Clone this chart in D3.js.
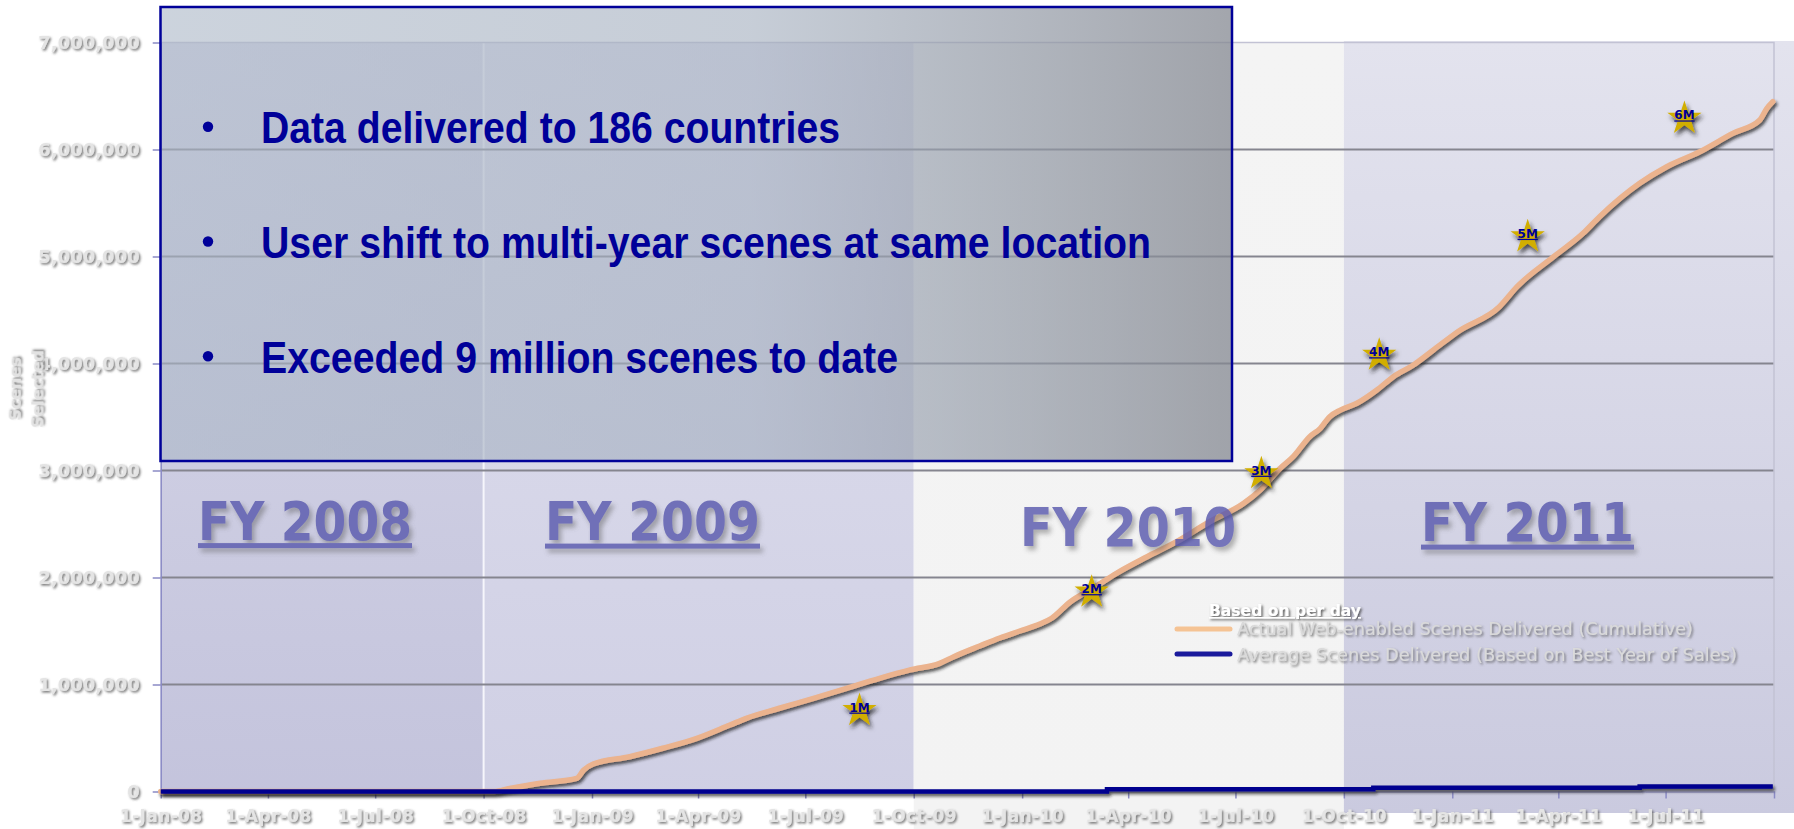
<!DOCTYPE html>
<html>
<head>
<meta charset="utf-8">
<script src="https://cdn.jsdelivr.net/npm/d3@7"></script>
<style>
  html, body { margin: 0; padding: 0; background: #ffffff; }
  svg { display: block; }
</style>
</head>
<body>
<svg id="chart" width="1794" height="829"></svg>
<script>
// ---- Data -------------------------------------------------------------
// Actual web-enabled scenes delivered (cumulative)
const scenesDates = [
  "2008-01-01","2008-10-10","2008-10-22","2008-11-18","2008-12-19","2008-12-25",
  "2009-01-02","2009-02-02","2009-03-02","2009-03-31","2009-04-28","2009-05-12",
  "2009-06-09","2009-07-08","2009-08-05","2009-09-02","2009-09-28","2009-10-23",
  "2009-11-04","2009-11-26","2009-12-13","2009-12-30","2010-01-16","2010-01-26",
  "2010-02-11","2010-03-02","2010-03-22","2010-04-17","2010-05-12","2010-06-09",
  "2010-07-08","2010-07-22","2010-08-08","2010-08-19","2010-09-02","2010-09-11",
  "2010-09-19","2010-09-28","2010-10-12","2010-10-29","2010-11-12","2010-11-29",
  "2010-12-16","2011-01-06","2011-02-10","2011-02-25","2011-03-28","2011-04-22",
  "2011-05-06","2011-06-09","2011-07-02","2011-07-30","2011-08-27","2011-09-19",
  "2011-09-25","2011-09-30"
];
const scenesValues = [
  0, 0, 25000, 77000, 123000, 201000,
  257000, 325000, 404000, 497000, 621000, 684000,
  778000, 871000, 964000, 1058000, 1136000, 1198000,
  1260000, 1360000, 1435000, 1500000, 1565000, 1619000,
  1774000, 1899000, 2039000, 2194000, 2335000, 2521000,
  2693000, 2818000, 3021000, 3129000, 3316000, 3394000,
  3503000, 3565000, 3628000, 3752000, 3877000, 3986000,
  4126000, 4300000, 4531000, 4718000, 4998000, 5217000,
  5372000, 5684000, 5839000, 5979000, 6151000, 6276000,
  6385000, 6447000
];

// Average scenes delivered (based on best year of sales), stepped
const avgDates  = ["2008-01-01","2010-03-14","2010-10-26","2011-06-09","2011-09-30"];
const avgValues = [0, 21000, 34000, 47000, 47000];

// Milestone stars
const milestoneLabels = ["1M","2M","3M","4M","5M","6M"];
const milestoneValues = [1000000, 2000000, 3000000, 4000000, 5000000, 6000000];
const milestoneDates  = ["2009-08-16","2010-03-01","2010-07-23","2010-10-31","2011-03-06","2011-07-17"];

// Fiscal years
const fyLabels = ["FY 2008","FY 2009","FY 2010","FY 2011"];
const fyStarts = ["2008-01-01","2008-10-01","2009-10-01","2010-10-01"];

// Axes
const xTickLabels = ["1-Jan-08","1-Apr-08","1-Jul-08","1-Oct-08","1-Jan-09","1-Apr-09",
  "1-Jul-09","1-Oct-09","1-Jan-10","1-Apr-10","1-Jul-10","1-Oct-10","1-Jan-11",
  "1-Apr-11","1-Jul-11"];
const yTickValues = [0, 1000000, 2000000, 3000000, 4000000, 5000000, 6000000, 7000000];
const yTitle = ["Scenes", "Selected"];

// Legend and callout text
const legendTitle = "Based on per day";
const legendLabels = [
  "Actual Web-enabled Scenes Delivered (Cumulative)",
  "Average Scenes Delivered (Based on Best Year of Sales)"
];
const bullets = [
  "Data delivered to 186 countries",
  "User shift to multi-year scenes at same location",
  "Exceeded 9 million scenes to date"
];

// ---- Setup ------------------------------------------------------------
const W = 1794, H = 829;
const parseISO = d3.utcParse("%Y-%m-%d");
const parseTick = d3.utcParse("%d-%b-%y");
const startDate = parseISO("2008-01-01");
const endDate = parseISO("2011-10-01");

const x = d3.scaleUtc().domain([startDate, endDate]).range([160.7, 1774]);
const y = d3.scaleLinear().domain([0, 7000000]).range([791.5, 42.5]);
// milestone markers sit on their own full-height scale
const yMark = d3.scaleLinear().domain([0, 7000000]).range([H, 0]);

const svg = d3.select("#chart");
const defs = svg.append("defs");

function vGrad(id, top, bottom) {
  const g = defs.append("linearGradient").attr("id", id)
    .attr("gradientUnits", "userSpaceOnUse")
    .attr("x1", 0).attr("x2", 0).attr("y1", 42).attr("y2", 815);
  g.append("stop").attr("offset", 0).attr("stop-color", top);
  g.append("stop").attr("offset", 1).attr("stop-color", bottom);
}
vGrad("band08", "#d9d9e9", "#c3c3dc");
vGrad("band09", "#e0e0ee", "#cfcfe4");
vGrad("band10", "#f4f4f4", "#f3f3f3");
vGrad("band11", "#e3e3ee", "#cacadf");

const boxGrad = defs.append("linearGradient").attr("id", "boxGrad")
  .attr("x1", 0).attr("x2", 1).attr("y1", 0).attr("y2", 0);
[[0, "rgb(170,182,198)", 0.6], [0.55, "rgb(164,175,191)", 0.62], [1, "rgb(132,136,145)", 0.75]]
  .forEach(([o, c, a]) => boxGrad.append("stop").attr("offset", o)
    .attr("stop-color", c).attr("stop-opacity", a));

function shadow(id, dx, dy, sd, color, op, wide) {
  const f = defs.append("filter").attr("id", id);
  if (wide) {
    f.attr("filterUnits", "userSpaceOnUse").attr("x", -2000).attr("y", -2000)
     .attr("width", 6000).attr("height", 6000);
  } else {
    f.attr("x", "-20%").attr("y", "-40%").attr("width", "150%").attr("height", "200%");
  }
  f.append("feDropShadow").attr("dx", dx).attr("dy", dy).attr("stdDeviation", sd)
    .attr("flood-color", color).attr("flood-opacity", op);
}
shadow("txtShadow", 1.5, 1.6, 0.9, "#4a4a4a", 0.75, false);
shadow("lineShadow", 1.8, 2.6, 1.4, "#1c1c1c", 0.72, true);
shadow("starShadow", 2, 3.5, 2, "#222", 0.8, true);
shadow("fyShadow", 3, 4, 2.5, "#555", 0.55, false);
shadow("legShadow", 1.5, 1.5, 1, "#333", 0.8, false);

// ---- Fiscal-year bands ------------------------------------------------
const bandFill = ["url(#band08)", "url(#band09)", "url(#band10)", "url(#band11)"];
const bandBottom = [y(0), y(0), H, 813];
const fyBounds = fyStarts.map(parseISO);
const bandTop = i => (i === 3 ? 41 : y(7000000));
svg.append("g").selectAll("rect").data(fyLabels).join("rect")
  .attr("x", (d, i) => x(fyBounds[i]))
  .attr("y", (d, i) => bandTop(i))
  .attr("width", (d, i) => (i < 3 ? x(fyBounds[i + 1]) : W) - x(fyBounds[i]))
  .attr("height", (d, i) => bandBottom[i] - bandTop(i))
  .attr("fill", (d, i) => bandFill[i]);

// separator between FY 2008 and FY 2009
svg.append("line")
  .attr("x1", x(fyBounds[1])).attr("x2", x(fyBounds[1]))
  .attr("y1", y(7000000)).attr("y2", y(0))
  .attr("stroke", "#f6f6fc").attr("stroke-width", 2);

// ---- Grid -------------------------------------------------------------
svg.append("g").selectAll("line").data(yTickValues.filter(v => v > 0 && v < 7000000)).join("line")
  .attr("x1", x.range()[0]).attr("x2", x.range()[1])
  .attr("y1", d => y(d)).attr("y2", d => y(d))
  .attr("stroke", "#85858f").attr("stroke-width", 2);
// plot frame top and right
svg.append("path")
  .attr("d", `M${x.range()[0]},${y(7000000)}H${x.range()[1]}V${y(0)}`)
  .attr("fill", "none").attr("stroke", "#c2c2d4").attr("stroke-width", 1.5);

// ---- Axes -------------------------------------------------------------
const yAxis = svg.append("g").attr("transform", `translate(${x.range()[0]},0)`)
  .call(d3.axisLeft(y).tickValues(yTickValues).tickFormat(d3.format(","))
    .tickSize(8).tickPadding(13).tickSizeOuter(0));
yAxis.select(".domain").attr("stroke", "#8a8ac4").attr("stroke-width", 1.5);
yAxis.selectAll(".tick line").attr("stroke", "#8a8ac4").attr("stroke-width", 1.5);
yAxis.selectAll("text")
  .attr("fill", "#e4e4e4")
  .style("font-family", "'DejaVu Sans', Verdana, sans-serif")
  .style("font-weight", "bold").style("font-size", "18px")
  .attr("filter", "url(#txtShadow)");

const xTickDates = xTickLabels.map(parseTick);
const tickLabelOf = new Map(xTickDates.map((d, i) => [+d, xTickLabels[i]]));
const xAxis = svg.append("g").attr("transform", `translate(0,${y(0)})`)
  .call(d3.axisBottom(x).tickValues(xTickDates.concat([endDate]))
    .tickFormat(d => tickLabelOf.get(+d) || "")
    .tickSize(7).tickPadding(11).tickSizeOuter(0));
xAxis.select(".domain").attr("stroke", "#8a8ac4").attr("stroke-width", 1);
xAxis.selectAll(".tick line").attr("stroke", "#8a8ac4").attr("stroke-width", 1.5);
xAxis.selectAll("text")
  .attr("fill", "#e4e4e4")
  .style("font-family", "'DejaVu Sans', Verdana, sans-serif")
  .style("font-weight", "bold").style("font-size", "17px")
  .style("letter-spacing", "0.4px")
  .attr("filter", "url(#txtShadow)");

// y-axis title
const yTitleX = [20.7, 43.3];
svg.append("g").selectAll("text").data(yTitle).join("text")
  .attr("transform", (d, i) => `translate(${yTitleX[i]},389) rotate(-90)`)
  .attr("text-anchor", "middle")
  .attr("fill", "#e2e2e2")
  .style("font-family", "'DejaVu Sans', Verdana, sans-serif")
  .style("font-weight", "bold").style("font-size", "16px")
  .attr("filter", "url(#txtShadow)")
  .text(d => d);

// ---- Series -----------------------------------------------------------
const scenes = scenesDates.map((d, i) => ({ date: parseISO(d), value: scenesValues[i] }));
const avg = avgDates.map((d, i) => ({ date: parseISO(d), value: avgValues[i] }));

svg.append("path").datum(scenes)
  .attr("d", d3.line().x(d => x(d.date)).y(d => y(d.value)).curve(d3.curveMonotoneX))
  .attr("fill", "none").attr("stroke", "#ebb38e").attr("stroke-width", 5.5)
  .attr("stroke-linejoin", "round").attr("stroke-linecap", "round")
  .attr("filter", "url(#lineShadow)");

svg.append("path").datum(avg)
  .attr("d", d3.line().x(d => x(d.date)).y(d => y(d.value)).curve(d3.curveStepAfter))
  .attr("fill", "none").attr("stroke", "#00008f").attr("stroke-width", 4.5)
  .attr("filter", "url(#lineShadow)");

// ---- Fiscal-year labels -----------------------------------------------
const fyPos = [
  { x: 198, base: 539.5, w: 214, under: true },
  { x: 545, base: 540, w: 215, under: true },
  { x: 1020, base: 546, w: 216, under: false },
  { x: 1421, base: 541, w: 213, under: true }
];
const fyG = svg.append("g").attr("filter", "url(#fyShadow)").attr("opacity", 0.82);
fyLabels.forEach((t, i) => {
  const p = fyPos[i];
  fyG.append("text")
    .attr("x", p.x).attr("y", p.base)
    .attr("textLength", p.w).attr("lengthAdjust", "spacingAndGlyphs")
    .attr("fill", "#5a5aae")
    .style("font-family", "'DejaVu Sans', Verdana, sans-serif")
    .style("font-weight", "bold").style("font-size", "53px")
    .text(t);
  if (p.under) {
    fyG.append("rect").attr("x", p.x).attr("y", p.base + 3.6)
      .attr("width", p.w).attr("height", 5).attr("fill", "#5a5aae");
  }
});

// ---- Milestone stars --------------------------------------------------
const marks = milestoneLabels.map((l, i) => ({
  label: l, value: milestoneValues[i], date: parseISO(milestoneDates[i])
}));
const star = d3.symbol().type(d3.symbolStar).size(364);
const mg = svg.append("g").selectAll("g").data(marks).join("g")
  .attr("transform", d => `translate(${x(d.date)},${yMark(d.value)})`);
mg.append("path").attr("d", star).attr("fill", "#d1ae00")
  .attr("filter", "url(#starShadow)");
mg.append("text")
  .attr("text-anchor", "middle").attr("y", 1)
  .attr("fill", "#000099")
  .style("font-family", "'DejaVu Sans', Verdana, sans-serif")
  .style("font-weight", "bold").style("font-size", "12px")
  .style("text-decoration", "underline")
  .text(d => d.label);

// ---- Legend -----------------------------------------------------------
svg.append("text")
  .attr("x", 1209).attr("y", 616)
  .attr("fill", "#ffffff")
  .attr("textLength", 152).attr("lengthAdjust", "spacingAndGlyphs")
  .style("font-family", "'DejaVu Sans', Verdana, sans-serif")
  .style("font-weight", "bold").style("font-size", "15.5px")
  .style("text-decoration", "underline")
  .attr("filter", "url(#legShadow)")
  .text(legendTitle);

const legColors = ["#f5c394", "#1a1a9c"];
const legLineY = [629, 654];
const legTextY = [635, 661];
const legTextW = [456, 500];
legendLabels.forEach((t, i) => {
  svg.append("line")
    .attr("x1", 1177).attr("x2", 1230).attr("y1", legLineY[i]).attr("y2", legLineY[i])
    .attr("stroke", legColors[i]).attr("stroke-width", 5).attr("stroke-linecap", "round");
  svg.append("text")
    .attr("x", 1237).attr("y", legTextY[i])
    .attr("textLength", legTextW[i]).attr("lengthAdjust", "spacingAndGlyphs")
    .attr("fill", "#dadada")
    .style("font-family", "'DejaVu Sans', Verdana, sans-serif")
    .style("font-size", "17.5px")
    .attr("filter", "url(#txtShadow)")
    .text(t);
});

// ---- Callout box ------------------------------------------------------
const box = { x: 160.5, y: 7, w: 1071.5, h: 454 };
svg.append("rect")
  .attr("x", box.x).attr("y", box.y).attr("width", box.w).attr("height", box.h)
  .attr("fill", "url(#boxGrad)")
  .attr("stroke", "#000099").attr("stroke-width", 2.5);

const bulletBase = [143.3, 258, 372.7];
const bulletW = [579, 890, 637];
bullets.forEach((t, i) => {
  svg.append("circle").attr("cx", 208).attr("cy", bulletBase[i] - 16.5).attr("r", 5.2)
    .attr("fill", "#000099");
  svg.append("text")
    .attr("x", 261).attr("y", bulletBase[i])
    .attr("textLength", bulletW[i]).attr("lengthAdjust", "spacingAndGlyphs")
    .attr("fill", "#000099")
    .style("font-family", "'Liberation Sans Narrow', 'Arial Narrow', 'Liberation Sans', Arial, sans-serif")
    .style("font-weight", "bold").style("font-size", "44px")
    .text(t);
});
</script>
</body>
</html>
